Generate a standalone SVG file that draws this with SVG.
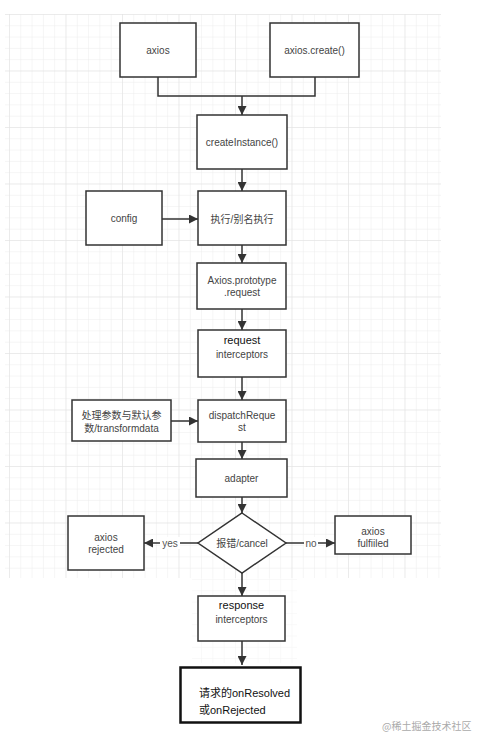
<svg xmlns="http://www.w3.org/2000/svg" width="490" height="748" viewBox="0 0 490 748">
<defs>
<pattern id="minor" x="9" y="14" width="11.3" height="11.3" patternUnits="userSpaceOnUse">
<path d="M0 0H11.3M0 0V11.3" fill="none" stroke="#ececec" stroke-width="1"/>
</pattern>
<pattern id="major" x="9" y="14" width="56.5" height="56.5" patternUnits="userSpaceOnUse">
<path d="M0 0H56.5M0 0V56.5" fill="none" stroke="#e2e2e2" stroke-width="1"/>
</pattern>
<marker id="arr" viewBox="0 0 10 10" refX="10" refY="5" markerWidth="9" markerHeight="9" markerUnits="userSpaceOnUse" orient="auto">
<path d="M0 0L10 5L0 10z" fill="#333"/>
</marker>
</defs>
<style>
.box{fill:#fff;stroke:#333;stroke-width:1.5}
.t{font-family:"Liberation Sans",Arial,sans-serif;font-size:10px;fill:#444;text-anchor:middle}
.b{font-family:"Liberation Sans",Arial,sans-serif;font-size:11px;fill:#111;text-anchor:middle}
.c{font-family:"Liberation Sans","Noto Sans CJK SC",sans-serif;font-size:10px;fill:#444;text-anchor:middle}
.e{fill:none;stroke:#333;stroke-width:1.5}
.lbl{font-family:"Liberation Sans",Arial,sans-serif;font-size:10px;fill:#555;text-anchor:middle}
</style>
<rect width="490" height="748" fill="#fff"/>
<rect x="5" y="14" width="436" height="564" fill="url(#minor)"/>
<rect x="5" y="14" width="436" height="564" fill="url(#major)"/>
<rect x="192" y="578" width="105" height="85" fill="url(#minor)" opacity="0.6"/>

<g id="connectors">
<path class="e" d="M158 77V96H315V77"/>
<path class="e" d="M242 96V115" marker-end="url(#arr)"/>
<path class="e" d="M242 169V191" marker-end="url(#arr)"/>
<path class="e" d="M162 219H198" marker-end="url(#arr)"/>
<path class="e" d="M242 245V263" marker-end="url(#arr)"/>
<path class="e" d="M242 309V330" marker-end="url(#arr)"/>
<path class="e" d="M242 377V400" marker-end="url(#arr)"/>
<path class="e" d="M171 421H198" marker-end="url(#arr)"/>
<path class="e" d="M242 442V459" marker-end="url(#arr)"/>
<path class="e" d="M242 497V513" marker-end="url(#arr)"/>
<path class="e" d="M198 543H144" marker-end="url(#arr)"/>
<rect x="160" y="537" width="20" height="12" fill="#fff"/>
<text class="lbl" x="170" y="547">yes</text>
<path class="e" d="M286 543H335" marker-end="url(#arr)"/>
<rect x="304" y="537" width="14" height="12" fill="#fff"/>
<text class="lbl" x="311" y="547">no</text>
<path class="e" d="M242 573V596" marker-end="url(#arr)"/>
<path class="e" d="M242 641V665" marker-end="url(#arr)"/>
</g>

<g id="axios"><rect class="box" x="120" y="23" width="76" height="54"/><text class="t" x="158" y="54">axios</text></g>
<g id="axios-create"><rect class="box" x="270" y="23" width="89" height="54"/><text class="t" x="314.5" y="54">axios.create()</text></g>
<g id="createInstance"><rect class="box" x="197" y="115" width="90" height="54"/><text class="t" x="242" y="146">createInstance()</text></g>
<g id="config"><rect class="box" x="86" y="191" width="76" height="54"/><text class="t" x="124" y="222">config</text></g>
<g id="exec"><rect class="box" x="198" y="191" width="88" height="54"/><text class="c" x="242" y="223">执行/别名执行</text></g>
<g id="prototype-request"><rect class="box" x="197" y="263" width="89" height="46"/><text class="t" x="242" y="284">Axios.prototype</text><text class="t" x="242" y="296">.request</text></g>
<g id="request-interceptors"><rect class="box" x="198" y="330" width="88" height="47"/><text class="b" x="242" y="344">request</text><text class="t" x="242" y="358">interceptors</text></g>
<g id="params"><rect class="box" x="72" y="400" width="99" height="41"/><text class="c" x="121.5" y="419">处理参数与默认参</text><text class="c" x="121.5" y="432">数/transformdata</text></g>
<g id="dispatchRequest"><rect class="box" x="198" y="400" width="88" height="42"/><text class="t" x="242" y="419">dispatchReque</text><text class="t" x="242" y="431">st</text></g>
<g id="adapter"><rect class="box" x="196" y="459" width="91" height="38"/><text class="t" x="241.5" y="482">adapter</text></g>
<g id="decision"><path class="box" d="M242 513L286 543L242 573L198 543Z"/><text class="c" x="242" y="547">报错/cancel</text></g>
<g id="axios-rejected"><rect class="box" x="68" y="516" width="76" height="54"/><text class="t" x="106" y="541">axios</text><text class="t" x="106" y="553">rejected</text></g>
<g id="axios-fulfiled"><rect class="box" x="335" y="516" width="76" height="38"/><text class="t" x="373" y="535">axios</text><text class="t" x="373" y="547">fulfiiled</text></g>
<g id="response-interceptors"><rect class="box" x="198" y="596" width="87" height="45"/><text class="b" x="241.5" y="609">response</text><text class="t" x="241.5" y="623">interceptors</text></g>
<g id="final"><rect x="180.5" y="667.5" width="120" height="55" fill="#fff" stroke="#111" stroke-width="2.5"/>
<text font-family="'Liberation Sans','Noto Sans CJK SC',sans-serif" font-size="11" fill="#111" x="199" y="697">请求的onResolved</text>
<text font-family="'Liberation Sans','Noto Sans CJK SC',sans-serif" font-size="11" fill="#111" x="199" y="714">或onRejected</text></g>
<text font-family="'Noto Sans CJK SC',sans-serif" font-size="10" fill="#aaa" x="382" y="730">@稀土掘金技术社区</text>
</svg>
